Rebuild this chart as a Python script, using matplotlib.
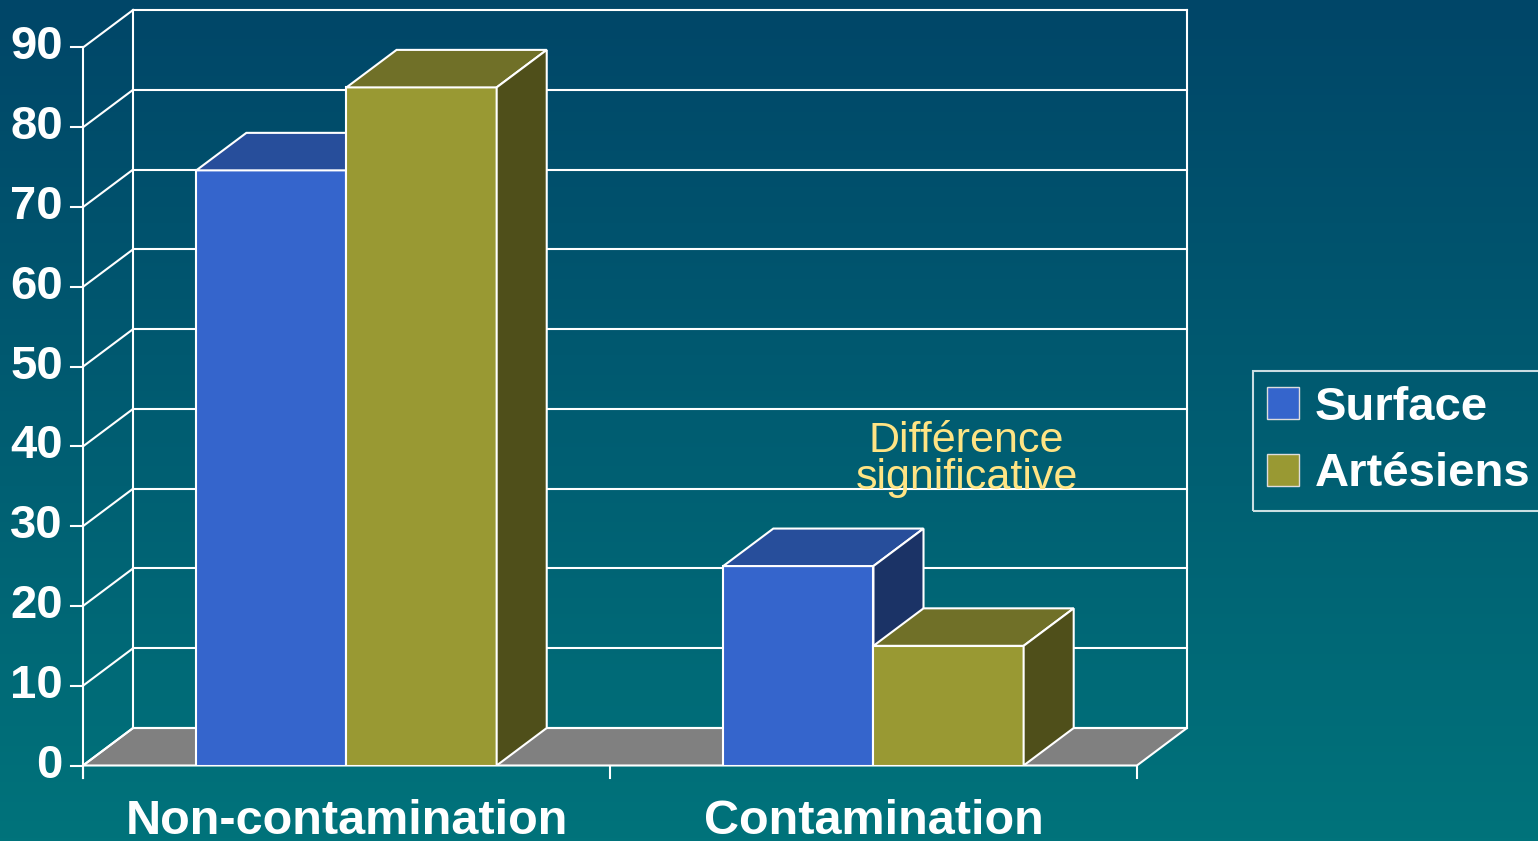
import numpy as np
import matplotlib
matplotlib.use('Agg')
import matplotlib.pyplot as plt
from matplotlib.patches import Polygon, Rectangle, Patch
from matplotlib.colors import LinearSegmentedColormap

categories = ['Non-contamination', 'Contamination']
series = ['Surface', 'Artésiens']
surface = [74.6, 25]
artesiens = [85, 15]
y_ticks = list(range(0, 100, 10))
note = 'Différence\nsignificative'

# colours: front, top, side
SURF_COLS = ('#3565CC', '#274E9B', '#1B3366')
ART_COLS = ('#999933', '#707028', '#4F4F1A')
FLOOR = '#808080'
EDGE = 'white'

# fake 3d depth, in data units
DX = 0.095
DY = 4.7
BAR_W = 0.285

plt.rcParams['font.family'] = ['Liberation Sans', 'DejaVu Sans']

fig = plt.figure(figsize=(15.38, 8.41), dpi=100)

# background gradient
bg = fig.add_axes([0, 0, 1, 1], zorder=-10)
cmap = LinearSegmentedColormap.from_list('bg', ['#004668', '#00737B'])
bg.imshow(np.linspace(0, 1, 256).reshape(-1, 1), aspect='auto', cmap=cmap,
          extent=[0, 1, 0, 1], origin='upper')
bg.axis('off')

ax = fig.add_axes([83 / 1538, 1 - 765.5 / 841, 1104 / 1538, 755.5 / 841])
ax.set_xlim(0, len(categories) + DX)
ax.set_ylim(0, max(y_ticks) + DY)
ax.axis('off')
ax.patch.set_alpha(0)

n = len(categories)
lw = 1.5

# floor
ax.add_patch(Polygon([(0, 0), (n, 0), (n + DX, DY), (DX, DY)], closed=True,
                     facecolor=FLOOR, edgecolor=EDGE, lw=lw, zorder=1, clip_on=False))

# walls: gridlines on back wall + diagonals on side wall
top = max(y_ticks)
for v in y_ticks:
    ax.plot([DX, n + DX], [v + DY, v + DY], color=EDGE, lw=lw, zorder=2, clip_on=False)
    ax.plot([0, DX], [v, v + DY], color=EDGE, lw=lw, zorder=2, clip_on=False)
    ax.plot([-0.023, 0], [v, v], color=EDGE, lw=lw, zorder=2, clip_on=False)
    ax.annotate(str(v), (0, v), xytext=(-14.5, 0), textcoords='offset points',
                ha='right', va='center', fontsize=34, fontweight='bold', color='white')
ax.plot([0, 0], [-1.6, top], color=EDGE, lw=lw, zorder=2, clip_on=False)
ax.plot([DX, DX], [DY, top + DY], color=EDGE, lw=lw, zorder=2, clip_on=False)
ax.plot([n + DX, n + DX], [DY, top + DY], color=EDGE, lw=lw, zorder=2, clip_on=False)

# category ticks
for i in range(n + 1):
    ax.plot([i, i], [-1.6, 0], color=EDGE, lw=lw, zorder=2, clip_on=False)


def bar3d(x0, h, cols, z):
    front, topc, side = cols
    ax.add_patch(Rectangle((x0, 0), BAR_W, h, facecolor=front, edgecolor=EDGE,
                           lw=lw, zorder=z))
    ax.add_patch(Polygon([(x0, h), (x0 + BAR_W, h), (x0 + BAR_W + DX, h + DY), (x0 + DX, h + DY)],
                         closed=True, facecolor=topc, edgecolor=EDGE, lw=lw, zorder=z))
    ax.add_patch(Polygon([(x0 + BAR_W, 0), (x0 + BAR_W + DX, DY), (x0 + BAR_W + DX, h + DY), (x0 + BAR_W, h)],
                         closed=True, facecolor=side, edgecolor=EDGE, lw=lw, zorder=z))


for i, cat in enumerate(categories):
    c = i + 0.5
    bar3d(c - BAR_W, surface[i], SURF_COLS, 3 + 2 * i)
    bar3d(c, artesiens[i], ART_COLS, 4 + 2 * i)
    ax.annotate(cat, (c, 0), xytext=(0, -49), textcoords='offset points',
                ha='center', va='baseline', fontsize=35, fontweight='bold',
                color='white', annotation_clip=False)

ax.text(1.677, 38.3, note, ha='center', va='center', fontsize=31,
        color='#FFE484', linespacing=0.9, zorder=10)

handles = [Patch(facecolor=SURF_COLS[0], edgecolor='#DDDDDD', lw=1),
           Patch(facecolor=ART_COLS[0], edgecolor='#DDDDDD', lw=1)]
leg = fig.legend(handles, series, loc='center left', bbox_to_anchor=(1253 / 1538, 1 - 441 / 841),
                 frameon=True, fancybox=False, edgecolor='white', facecolor='none',
                 prop={'size': 34, 'weight': 'bold'}, handlelength=0.68, handleheight=0.68,
                 handletextpad=0.32, labelspacing=0.48, borderpad=0.3, borderaxespad=0)
for t in leg.get_texts():
    t.set_color('white')
leg.get_frame().set_linewidth(1.5)

fig.savefig('out.png', dpi=100)
